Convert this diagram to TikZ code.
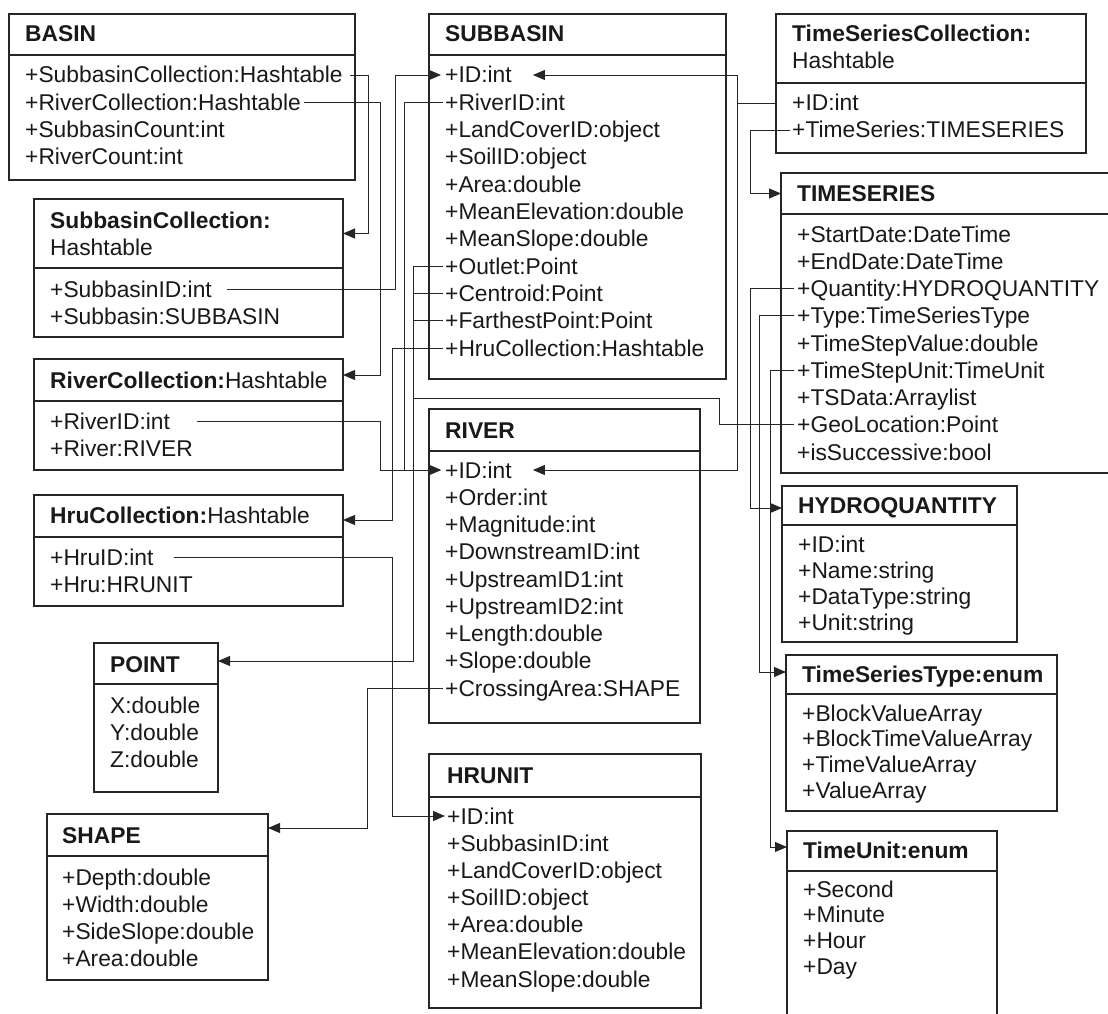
\documentclass[tikz,border=0pt]{standalone}
\usepackage{fontspec}
\setmainfont{Liberation Sans}
\usetikzlibrary{arrows.meta}

% class box: header node (#1-h) and body node (#1-b)
% args: name, x1, y1, x2, y of divider, y2
\newcommand\classbox[6]{%
  \node[box, minimum width={#4-#2}, minimum height={#5-#3}] (#1-h) at (#2,#3) {};
  \node[box, minimum width={#4-#2}, minimum height={#6-#5}] (#1-b) at (#2,#5) {};
}
% attribute rows: prefix, x, first baseline, row pitch, items
\newcommand\attrlist[5]{%
  \foreach \txt [count=\i] in {#5}
    \node[attr] (#1-\i) at (#2,{#3+#4*(\i-1)}) {\txt};
}

\begin{document}
\begin{tikzpicture}[x=1pt, y=-1pt,
  box/.style={draw=black!85, line width=1.1pt, anchor=north west, outer sep=0pt, inner sep=0pt},
  attr/.style={anchor=base west, inner sep=0pt, text height=16pt, text depth=0pt,
               font=\fontsize{22.8}{27}\selectfont, text=black!90},
  ttl/.style={attr, font=\fontsize{22.8}{27}\selectfont\bfseries},
  conn/.style={draw=black!85, line width=0.95pt},
  arr/.style={conn, -{Triangle[length=12pt,width=10pt]}}]

\fill[white] (0,0) rectangle (1108,1014);
\useasboundingbox (0,0) rectangle (1108,1014);
\clip (0,0) rectangle (1108,1014);

% ---------- left column ----------
\classbox{basin}{9}{14}{355}{55}{180}
\node[ttl] (basin-t) at (25,42) {BASIN};
\attrlist{basin}{25}{83}{27.3}{+SubbasinCollection:Hashtable,+RiverCollection:Hashtable,+SubbasinCount:int,+RiverCount:int}

\classbox{sbc}{34}{199}{343}{268}{337}
\node[ttl] (sbc-t) at (50,228) {SubbasinCollection:};
\node[attr] (sbc-t2) at (50,255) {Hashtable};
\attrlist{sbc}{50}{297}{27}{+SubbasinID:int,+Subbasin:SUBBASIN}

\classbox{rc}{34}{359}{343}{401}{470}
\node[attr] (rc-t) at (50,388) {\textbf{RiverCollection:}Hashtable};
\attrlist{rc}{50}{429}{27.5}{+RiverID:int,+River:RIVER}

\classbox{hc}{34}{495}{343}{537}{606}
\node[attr] (hc-t) at (50,523) {\textbf{HruCollection:}Hashtable};
\attrlist{hc}{50}{565}{27.5}{+HruID:int,+Hru:HRUNIT}

\classbox{pt}{94}{643}{218}{684}{792}
\node[ttl] (pt-t) at (110,672) {POINT};
\attrlist{pt}{110}{713}{27}{X:double,Y:double,Z:double}

\classbox{sh}{47}{814}{268}{856}{980}
\node[ttl] (sh-t) at (62,843) {SHAPE};
\attrlist{sh}{62}{885}{27.3}{+Depth:double,+Width:double,+SideSlope:double,+Area:double}

% ---------- middle column ----------
\classbox{sb}{429}{14}{726}{55}{379}
\node[ttl] (sb-t) at (445,42) {SUBBASIN};
\attrlist{sb}{445}{83}{27.3}{+ID:int,+RiverID:int,+LandCoverID:object,+SoilID:object,+Area:double,+MeanElevation:double,+MeanSlope:double,+Outlet:Point,+Centroid:Point,+FarthestPoint:Point,+HruCollection:Hashtable}

\classbox{riv}{429}{409}{700}{451}{723}
\node[ttl] (riv-t) at (445,438) {RIVER};
\attrlist{riv}{445}{478}{27.25}{+ID:int,+Order:int,+Magnitude:int,+DownstreamID:int,+UpstreamID1:int,+UpstreamID2:int,+Length:double,+Slope:double,+CrossingArea:SHAPE}

\classbox{hru}{429}{754}{701}{797}{1008}
\node[ttl] (hru-t) at (447,783) {HRUNIT};
\attrlist{hru}{447}{824}{27.17}{+ID:int,+SubbasinID:int,+LandCoverID:object,+SoilID:object,+Area:double,+MeanElevation:double,+MeanSlope:double}

% ---------- right column ----------
\classbox{tsc}{776}{14}{1086}{83}{153}
\node[ttl] (tsc-t) at (792,42) {TimeSeriesCollection:};
\node[attr] (tsc-t2) at (792,69) {Hashtable};
\attrlist{tsc}{792}{111}{27}{+ID:int,+TimeSeries:TIMESERIES}

\classbox{ts}{781}{173}{1114}{214}{473}
\node[ttl] (ts-t) at (797,201) {TIMESERIES};
\attrlist{ts}{797}{242}{27.25}{+StartDate:DateTime,+EndDate:DateTime,+Quantity:HYDROQUANTITY,+Type:TimeSeriesType,+TimeStepValue:double,+TimeStepUnit:TimeUnit,+TSData:Arraylist,+GeoLocation:Point,+isSuccessive:bool}

\classbox{hq}{782}{486}{1017}{525}{642}
\node[ttl] (hq-t) at (798,513) {HYDROQUANTITY};
\attrlist{hq}{798}{552}{26}{+ID:int,+Name:string,+DataType:string,+Unit:string}

\classbox{tst}{786}{655}{1057}{694}{811}
\node[ttl] (tst-t) at (802,682) {TimeSeriesType:enum};
\attrlist{tst}{802}{721}{25.7}{+BlockValueArray,+BlockTimeValueArray,+TimeValueArray,+ValueArray}

\classbox{tu}{787}{831}{997}{871}{1040}
\node[ttl] (tu-t) at (803,858) {TimeUnit:enum};
\attrlist{tu}{803}{897}{25.7}{+Second,+Minute,+Hour,+Day}

% ---------- connectors ----------
% BASIN collections
\draw[arr] ([xshift=7pt]basin-1.east) -| ([xshift=25pt]sbc-h.east) -- (sbc-h.east);
\draw[arr] ([xshift=3pt]basin-2.east) -| ([xshift=37pt,yshift=5pt]rc-h.east) -- ([yshift=5pt]rc-h.east);

% collection keys to their items
\draw[arr] ([xshift=15pt]sbc-1.east) -| ([xshift=-50pt]sb-1.west) -- ([xshift=-4pt]sb-1.west);
\draw[arr] ([xshift=27pt]rc-1.east) -| ([xshift=-65pt]riv-1.west) -- ([xshift=-4pt]riv-1.west);
\draw[arr] ([xshift=20pt]hc-1.east) -| ([xshift=-55pt]hru-1.west) -- ([xshift=-2pt]hru-1.west);

% SUBBASIN references
\draw[arr] ([xshift=-2pt]sb-2.west) -| ([xshift=-41pt]riv-1.west) -- ([xshift=-4pt]riv-1.west);
\draw[arr] ([xshift=-2pt]sb-11.west) -| ([xshift=49pt,yshift=-4pt]hc-h.east) -- ([yshift=-4pt]hc-h.east);
\draw[arr] ([xshift=-2pt]sb-8.west) -| ([xshift=195pt,yshift=2.5pt]pt-h.east) -- ([yshift=2.5pt]pt-h.east);
\draw[conn] ([xshift=-2pt]sb-9.west) -- ([xshift=-32pt]sb-9.west);
\draw[conn] ([xshift=-2pt]sb-10.west) -- ([xshift=-32pt]sb-10.west);

% RIVER cross section
\draw[arr] ([xshift=-2pt]riv-9.west) -| ([xshift=99pt,yshift=7pt]sh-h.east) -- ([yshift=7pt]sh-h.east);

% time series collection ids
\draw[arr] (tsc-1 -| tsc-b.west) -- ++(-39,0) |- ([xshift=21pt]sb-1.east);
\draw[arr] (tsc-1 -| tsc-b.west) -- ++(-39,0) |- ([xshift=21pt]riv-1.east);
\draw[arr] ([xshift=-2pt]tsc-2.west) -| ([xshift=-31pt]ts-h.west) -- (ts-h.west);

% TIMESERIES references
\draw[conn] ([xshift=-3pt]ts-8.west) -| (719,398) -| ([xshift=195pt,yshift=2.5pt]pt-h.east);
\draw[arr] ([xshift=-3pt]ts-3.west) -| ([xshift=-32pt,yshift=-2.5pt]hq-h.west) -- ([yshift=-2.5pt]hq-h.west);
\draw[arr] ([xshift=-3pt]ts-4.west) -| ([xshift=-27pt,yshift=2.5pt]tst-h.west) -- ([yshift=2.5pt]tst-h.west);
\draw[arr] ([xshift=-3pt]ts-6.west) -| ([xshift=-17pt,yshift=4pt]tu-h.west) -- ([yshift=4pt]tu-h.west);

\end{tikzpicture}
\end{document}
